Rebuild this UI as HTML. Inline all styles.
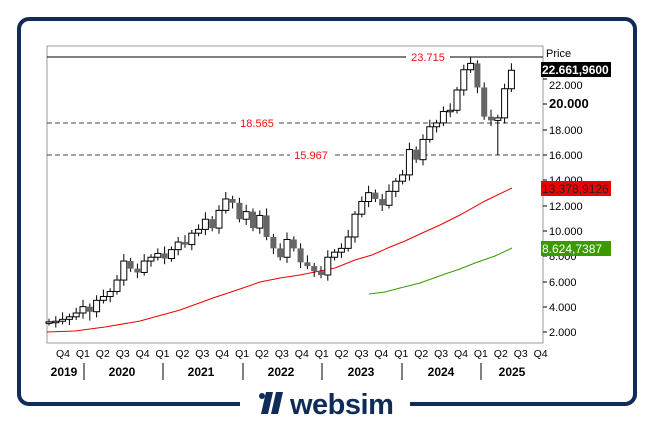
<!DOCTYPE html>
<html><head><meta charset="utf-8"><style>
body{margin:0;background:#fff;width:653px;height:423px;overflow:hidden}
svg{display:block;font-family:"Liberation Sans",sans-serif}
</style></head><body>
<svg id="s" width="653" height="423" xmlns="http://www.w3.org/2000/svg">
<rect x="19" y="19" width="616" height="385" rx="10" fill="none" stroke="#0e2c57" stroke-width="4"/>
<rect x="240" y="390" width="170" height="30" fill="#fff"/>
<g fill="#0e2c57"><circle cx="262" cy="396" r="3"/><polygon points="266,392 273,392 268,414 261,414"/><polygon points="276,392 283,392 278,414 271,414"/></g>
<text x="290" y="414" font-size="29" fill="#0e2c57" font-weight="bold" style="letter-spacing:-0.5px">websim</text>
<rect x="47" y="46" width="496" height="297" fill="#fff" stroke="#9a9aa8" stroke-width="1"/>
<line x1="47" y1="57" x2="543" y2="57" stroke="#000" stroke-width="1"/>
<rect x="406" y="50" width="44" height="13" fill="#fff"/>
<text x="428" y="61" font-size="11" fill="#e11" text-anchor="middle">23.715</text>
<line x1="47" y1="123" x2="543" y2="123" stroke="#444" stroke-dasharray="5,3"/>
<rect x="236" y="116" width="42" height="13" fill="#fff"/>
<text x="257" y="127" font-size="11" fill="#e11" text-anchor="middle">18.565</text>
<line x1="47" y1="155" x2="543" y2="155" stroke="#444" stroke-dasharray="5,3"/>
<rect x="290" y="148" width="42" height="13" fill="#fff"/>
<text x="311" y="159" font-size="11" fill="#e11" text-anchor="middle">15.967</text>
<polyline fill="none" stroke="#e00" stroke-width="1" points="47,332 75,331 105,327 140,321 180,310 213,298 240,289 260,282 280,278 300,275 320,271 335,268 355,260 372,255 390,247 405,241 420,234 440,225 460,215 485,201 512,188"/>
<polyline fill="none" stroke="#3a9a00" stroke-width="1" points="369,294 385,292 400,288 420,283 445,274 460,269 475,263 495,256 512,248"/>
<g id="c"></g>
<text x="546" y="57" font-size="11" fill="#000">Price</text>
<g font-size="11" fill="#000">
<text x="549" y="89">22.000</text><text x="549" y="108" font-size="13" font-weight="bold">20.000</text>
<text x="549" y="134">18.000</text><text x="549" y="159">16.000</text><text x="549" y="184">14.000</text>
<text x="549" y="210">12.000</text><text x="549" y="235">10.000</text><text x="549" y="260">8.000</text>
<text x="549" y="286">6.000</text><text x="549" y="311">4.000</text><text x="549" y="336">2.000</text>
</g>
<g stroke="#000"><line x1="543" y1="79" x2="547" y2="79"/><line x1="543" y1="104" x2="547" y2="104"/><line x1="543" y1="130" x2="547" y2="130"/><line x1="543" y1="155" x2="547" y2="155"/><line x1="543" y1="180" x2="547" y2="180"/><line x1="543" y1="206" x2="547" y2="206"/><line x1="543" y1="231" x2="547" y2="231"/><line x1="543" y1="256" x2="547" y2="256"/><line x1="543" y1="282" x2="547" y2="282"/><line x1="543" y1="307" x2="547" y2="307"/><line x1="543" y1="332" x2="547" y2="332"/></g>
<rect x="541" y="62" width="70" height="15" fill="#000"/><text x="542" y="74" font-size="12" fill="#fff" font-weight="bold">22.661,9600</text>
<rect x="541" y="181" width="70" height="15" fill="#e00"/><text x="542" y="193" font-size="12" fill="#222">13.378,9126</text>
<rect x="541" y="241" width="70" height="15" fill="#3a9a00"/><text x="542" y="253" font-size="12" fill="#fff">8.624,7387</text>
<g id="q" font-size="10.5" fill="#000" text-anchor="middle"></g>
<g font-size="12" font-weight="bold" fill="#000" text-anchor="middle">
<text x="64" y="376">2019</text><text x="122" y="376">2020</text><text x="201" y="376">2021</text><text x="281" y="376">2022</text><text x="361" y="376">2023</text><text x="441" y="376">2024</text><text x="512" y="376">2025</text></g>
<g stroke="#000"><line x1="84" y1="363" x2="84" y2="380"/><line x1="163" y1="363" x2="163" y2="380"/><line x1="243" y1="363" x2="243" y2="380"/><line x1="322" y1="363" x2="322" y2="380"/><line x1="402" y1="363" x2="402" y2="380"/><line x1="481" y1="363" x2="481" y2="380"/></g>
</svg>
<script>
var ns="http://www.w3.org/2000/svg";
function y(v){return 332-(v-2)*12.67;}
var cl=[2.8,2.85,3.0,3.2,3.5,4.0,3.6,4.5,4.8,5.2,6.1,7.6,7.0,6.7,7.6,7.9,8.2,7.8,8.5,9.1,8.9,9.8,10.1,10.9,10.2,11.6,12.5,12.2,10.9,11.5,10.2,11.2,9.5,8.6,7.9,9.3,8.6,7.5,7.2,6.8,6.5,7.9,8.3,8.6,9.5,11.3,12.3,13.0,12.5,12.0,13.1,13.9,14.4,16.4,15.6,17.2,18.2,18.5,19.4,19.5,21.1,22.7,23.2,21.3,19.0,18.7,18.9,21.2,22.66];
var g=document.getElementById("c"),prev=2.75;
for(var i=0;i<cl.length;i++){var x=49+i*6.8,o=prev,c=cl[i];
 var hi=Math.max(o,c)+0.25+(i%3)*0.15,lo=Math.min(o,c)-0.25-(i%2)*0.2;
 if(i==6)lo=2.9; if(i==62)hi=23.715; if(i==66)lo=15.967;
 var l=document.createElementNS(ns,"line");l.setAttribute("x1",x);l.setAttribute("x2",x);l.setAttribute("y1",y(hi));l.setAttribute("y2",y(lo));l.setAttribute("stroke","#000");g.appendChild(l);
 var r=document.createElementNS(ns,"rect"),t=y(Math.max(o,c)),b=y(Math.min(o,c));
 r.setAttribute("x",x-3);r.setAttribute("width",6);r.setAttribute("y",t);r.setAttribute("height",Math.max(b-t,1.5));
 if(c>=o){r.setAttribute("fill","#fff");r.setAttribute("stroke","#000");}else{r.setAttribute("fill","#666");}
 g.appendChild(r);prev=c;}
var q=document.getElementById("q"),lab=["Q4","Q1","Q2","Q3"];
for(var k=0;k<25;k++){var t=document.createElementNS(ns,"text");t.setAttribute("x",63+k*19.9);t.setAttribute("y",357);t.textContent=lab[k%4];q.appendChild(t);}
</script>
</body></html>
